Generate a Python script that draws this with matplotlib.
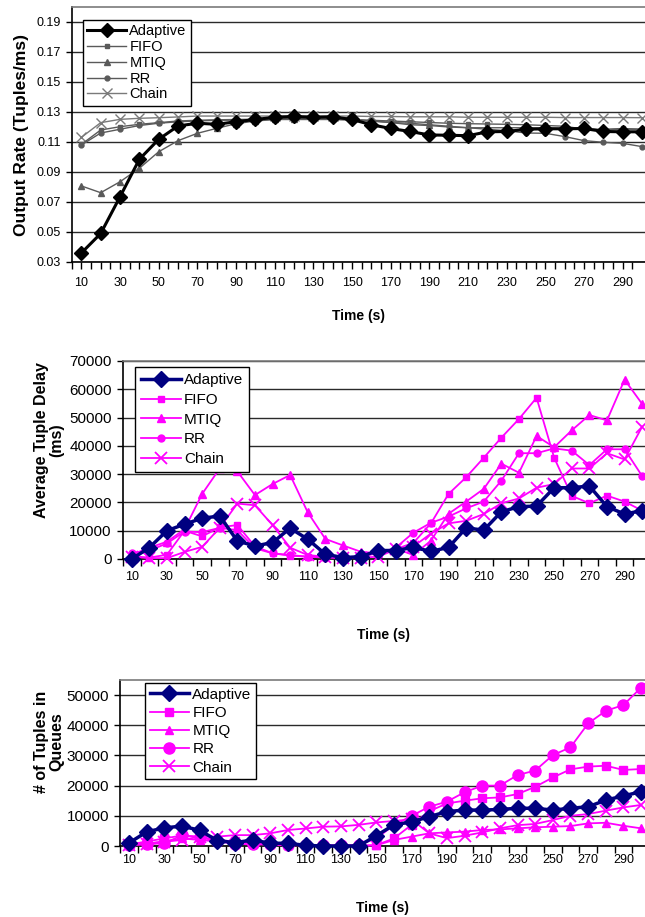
import matplotlib
matplotlib.use("Agg")
import matplotlib.pyplot as plt
import numpy as np

plt.rcParams['font.family'] = ['Liberation Sans', 'DejaVu Sans']

# ---------------- data ----------------
time = [10, 20, 30, 40, 50, 60, 70, 80, 90, 100, 110, 120, 130, 140, 150,
        160, 170, 180, 190, 200, 210, 220, 230, 240, 250, 260, 270, 280, 290, 300]
series_names = ["Adaptive", "FIFO", "MTIQ", "RR", "Chain"]
xtick_labels = [10, 30, 50, 70, 90, 110, 130, 150, 170, 190, 210, 230, 250, 270, 290]

# Chart 1: output rate (tuples/ms)
adaptive_rate = [0.0360, 0.0490, 0.0735, 0.0985, 0.1118, 0.1207, 0.1225, 0.1218, 0.1235, 0.1250,
                 0.1265, 0.1270, 0.1265, 0.1268, 0.1250, 0.1215, 0.1190, 0.1170, 0.1147, 0.1145,
                 0.1142, 0.1168, 0.1170, 0.1185, 0.1188, 0.1188, 0.1190, 0.1170, 0.1168, 0.1168]
fifo_rate = [0.1084, 0.1180, 0.1202, 0.1218, 0.1229, 0.1240, 0.1245, 0.1248, 0.1250, 0.1252,
             0.1255, 0.1255, 0.1255, 0.1255, 0.1250, 0.1245, 0.1240, 0.1235, 0.1230, 0.1225,
             0.1222, 0.1220, 0.1218, 0.1215, 0.1210, 0.1205, 0.1185, 0.1185, 0.1190, 0.1185]
mtiq_rate = [0.0807, 0.0762, 0.0835, 0.0925, 0.1035, 0.1109, 0.1158, 0.1191, 0.1222, 0.1240,
             0.1250, 0.1255, 0.1258, 0.1258, 0.1250, 0.1240, 0.1230, 0.1215, 0.1210, 0.1200,
             0.1195, 0.1195, 0.1195, 0.1195, 0.1195, 0.1190, 0.1190, 0.1180, 0.1185, 0.1185]
rr_rate = [0.1080, 0.1160, 0.1185, 0.1210, 0.1225, 0.1235, 0.1240, 0.1245, 0.1245, 0.1248,
           0.1250, 0.1250, 0.1250, 0.1250, 0.1245, 0.1240, 0.1230, 0.1225, 0.1215, 0.1205,
           0.1195, 0.1185, 0.1175, 0.1160, 0.1158, 0.1136, 0.1109, 0.1098, 0.1091, 0.1069]
chain_rate = [0.1131, 0.1229, 0.1251, 0.1258, 0.1262, 0.1267, 0.1273, 0.1273, 0.1273, 0.1273,
              0.1273, 0.1273, 0.1273, 0.1273, 0.1273, 0.1270, 0.1270, 0.1268, 0.1268, 0.1268,
              0.1265, 0.1265, 0.1265, 0.1265, 0.1265, 0.1263, 0.1263, 0.1263, 0.1263, 0.1262]

# Chart 2: average tuple delay (ms)
adaptive_delay = [0, 4000, 10000, 12300, 14400, 15200, 6400, 4600, 5800, 10900,
                  7000, 1700, 500, 800, 3000, 3000, 4100, 2700, 4100, 11000,
                  10200, 16700, 18500, 18700, 25200, 25200, 25800, 18500, 15900, 17100]
fifo_delay = [1000, 500, 1500, 10000, 8000, 11200, 12000, 4500, 2000, 1200,
              800, 800, 300, 800, 2300, 3500, 5700, 12600, 23000, 28900,
              35800, 42900, 49500, 57000, 35800, 22300, 19700, 22400, 20300, 17100]
mtiq_delay = [1500, 4000, 6100, 10500, 23000, 32000, 31000, 22600, 26500, 29700,
              16500, 7100, 4800, 2600, 2000, 3700, 1400, 6500, 16000, 20300,
              24800, 33700, 30500, 43500, 39500, 45500, 50900, 49000, 63400, 54800]
rr_delay = [2000, 3000, 5500, 9700, 9500, 11000, 10200, 3800, 2000, 1400,
            800, 500, 500, 1000, 2000, 4000, 9300, 12800, 15000, 17900,
            20300, 27700, 37400, 37400, 39100, 38300, 33200, 38800, 38800, 29300]
chain_delay = [800, 300, 300, 2500, 4300, 11000, 19600, 19000, 12000, 4000,
               1400, 800, 300, 500, 800, 3400, 4400, 9000, 12600, 13500,
               15900, 19700, 21400, 25200, 26500, 32000, 32000, 37400, 35200, 46800]

# Chart 3: number of tuples in queues
adaptive_q = [1000, 4700, 6000, 6600, 5200, 1800, 1100, 2000, 900, 900,
              200, 0, 0, 0, 3400, 7000, 8000, 9700, 11400, 11900,
              11900, 12100, 12500, 12500, 11900, 12500, 13000, 15200, 16600, 18000]
fifo_q = [500, 1500, 2500, 3500, 3000, 2000, 1500, 1000, 600, 400,
          200, 100, 100, 100, 300, 2500, 7000, 11500, 14100, 15000,
          15800, 16100, 17200, 19600, 22700, 25400, 26300, 26600, 25200, 25500]
mtiq_q = [300, 800, 1500, 2500, 2000, 1500, 1000, 800, 500, 300,
          200, 100, 100, 100, 200, 2000, 3100, 4200, 4500, 4750,
          5300, 5500, 5850, 6200, 6400, 6600, 7500, 7700, 6700, 5850]
rr_q = [300, 500, 1000, 3500, 3000, 1500, 800, 500, 500, 300,
        300, 200, 200, 300, 2500, 6900, 10000, 13000, 14700, 17800,
        20000, 20000, 23500, 25000, 30100, 32700, 40600, 44800, 46700, 52500]
chain_q = [300, 800, 1400, 2000, 3100, 3100, 3600, 3600, 4200, 5300,
           5800, 6400, 6500, 7000, 7800, 8300, 8800, 4200, 2600, 3400,
           4500, 5850, 6900, 7300, 8600, 10000, 10600, 11700, 12800, 13600]

# ---------------- figure ----------------
W, H = 645, 917
fig = plt.figure(figsize=(W / 100, H / 100), dpi=100)


def px_axes(left, top, right, bottom):
    return fig.add_axes([left / W, 1 - bottom / H, (right - left) / W, (bottom - top) / H])


def style_axes(ax, ylim, yticks, ytick_fmt, xright, ytick_size, xtick_size, xpad, half_ticks):
    ax.set_xlim(5, xright)
    ax.set_ylim(*ylim)
    ax.set_yticks(yticks)
    ax.set_yticklabels([ytick_fmt(v) for v in yticks], fontsize=ytick_size)
    ax.yaxis.grid(True, color='#2a2a2a', linewidth=1.0)
    ax.set_axisbelow(True)
    ax.set_xticks(xtick_labels)
    ax.set_xticklabels([str(v) for v in xtick_labels], fontsize=xtick_size)
    if half_ticks:
        ax.set_xticks(np.arange(5, 300, 5), minor=True)
        ax.tick_params(axis='x', which='major', length=5, width=1, pad=xpad)
    else:
        ax.set_xticks(np.arange(5, 300, 10), minor=True)
        ax.tick_params(axis='x', which='major', length=0, pad=xpad + 5)
    ax.tick_params(axis='x', which='minor', length=5, width=1, direction='out')
    ax.tick_params(axis='y', length=4, width=1, pad=4, direction='out')
    ax.spines['right'].set_visible(False)
    for s in ('left', 'bottom'):
        ax.spines[s].set_color('black')
        ax.spines[s].set_linewidth(1.2)
    ax.spines['top'].set_color('#7a7a7a')
    ax.spines['top'].set_linewidth(1.2)


def add_legend(ax, anchor, fontsize, handlelength, labelspacing, borderpad):
    h, l = ax.get_legend_handles_labels()
    order = [l.index(n) for n in series_names]
    leg = ax.legend([h[i] for i in order], [l[i] for i in order], loc='upper left',
                    bbox_to_anchor=anchor, borderaxespad=0, fontsize=fontsize,
                    frameon=True, fancybox=False, edgecolor='black', framealpha=1,
                    handlelength=handlelength, handletextpad=0.2,
                    labelspacing=labelspacing, borderpad=borderpad)
    leg.get_frame().set_linewidth(1.0)
    return leg


# ---- chart 1 ----
ax1 = px_axes(71.7, 7, 645, 262)
g1 = '#5a5a5a'
ax1.plot(time, chain_rate, color='#7a7a7a', lw=1.0, marker='x', ms=6.5, mew=1.0, label='Chain', zorder=3)
ax1.plot(time, rr_rate, color=g1, lw=1.0, marker='o', ms=3.5, label='RR', zorder=3)
ax1.plot(time, mtiq_rate, color=g1, lw=1.0, marker='^', ms=4.5, label='MTIQ', zorder=3)
ax1.plot(time, fifo_rate, color=g1, lw=1.0, marker='s', ms=3.5, label='FIFO', zorder=3)
ax1.plot(time, adaptive_rate, color='black', lw=2.2, marker='D', ms=7, label='Adaptive', zorder=4,
         clip_on=False)
style_axes(ax1, (0.03, 0.20), np.round(np.arange(0.03, 0.20, 0.02), 2), lambda v: f"{v:.2f}",
           301.5, 9, 9, 6, True)
ax1.set_xlabel("Time (s)", fontsize=10, fontweight='bold', labelpad=14)
ax1.set_ylabel("Output Rate (Tuples/ms)", fontsize=12.5, fontweight='bold', labelpad=5)
add_legend(ax1, (0.0192, 0.949), 10.5, 2.7, 0.12, 0.3)

# ---- chart 2 ----
ax2 = px_axes(122.9, 361, 645, 559)
pink = '#ff00ff'
navy = '#000080'
ax2.plot(time, fifo_delay, color=pink, lw=1.3, marker='s', ms=5, label='FIFO', zorder=3, clip_on=False)
ax2.plot(time, mtiq_delay, color=pink, lw=1.3, marker='^', ms=6, label='MTIQ', zorder=3, clip_on=False)
ax2.plot(time, rr_delay, color=pink, lw=1.3, marker='o', ms=5, label='RR', zorder=3, clip_on=False)
ax2.plot(time, chain_delay, color=pink, lw=1.3, marker='x', ms=8, mew=1.3, label='Chain', zorder=3,
         clip_on=False)
ax2.plot(time, adaptive_delay, color=navy, lw=2.5, marker='D', ms=8, label='Adaptive', zorder=4,
         clip_on=False)
style_axes(ax2, (0, 70000), np.arange(0, 70001, 10000), lambda v: f"{int(v)}",
           301.6, 11, 9, 4, False)
ax2.set_xlabel("Time (s)", fontsize=10, fontweight='bold', labelpad=32)
ax2.set_ylabel("Average Tuple Delay\n(ms)", fontsize=11.5, fontweight='bold', linespacing=1.0)
ax2.yaxis.set_label_coords(-0.113, 0.60)
add_legend(ax2, (0.0232, 0.970), 11, 2.6, 0.38, 0.4)

# ---- chart 3 ----
ax3 = px_axes(120.2, 680, 645, 846)
ax3.plot(time, fifo_q, color=pink, lw=1.3, marker='s', ms=5.5, label='FIFO', zorder=3, clip_on=False)
ax3.plot(time, mtiq_q, color=pink, lw=1.3, marker='^', ms=6, label='MTIQ', zorder=3, clip_on=False)
ax3.plot(time, chain_q, color=pink, lw=1.3, marker='x', ms=8, mew=1.3, label='Chain', zorder=3,
         clip_on=False)
ax3.plot(time, rr_q, color=pink, lw=1.3, marker='o', ms=8, label='RR', zorder=3, clip_on=False)
ax3.plot(time, adaptive_q, color=navy, lw=2.5, marker='D', ms=8.5, label='Adaptive', zorder=4,
         clip_on=False)
style_axes(ax3, (0, 55000), np.arange(0, 50001, 10000), lambda v: f"{int(v)}",
           302.2, 11, 9, 1, False)
ax3.set_xlabel("Time (s)", fontsize=10, fontweight='bold', labelpad=25)
ax3.set_ylabel("# of Tuples in\nQueues", fontsize=11.5, fontweight='bold', linespacing=1.0)
ax3.yaxis.set_label_coords(-0.107, 0.63)
add_legend(ax3, (0.0473, 0.982), 11, 2.6, 0.28, 0.3)

fig.savefig("out.png", dpi=100)
